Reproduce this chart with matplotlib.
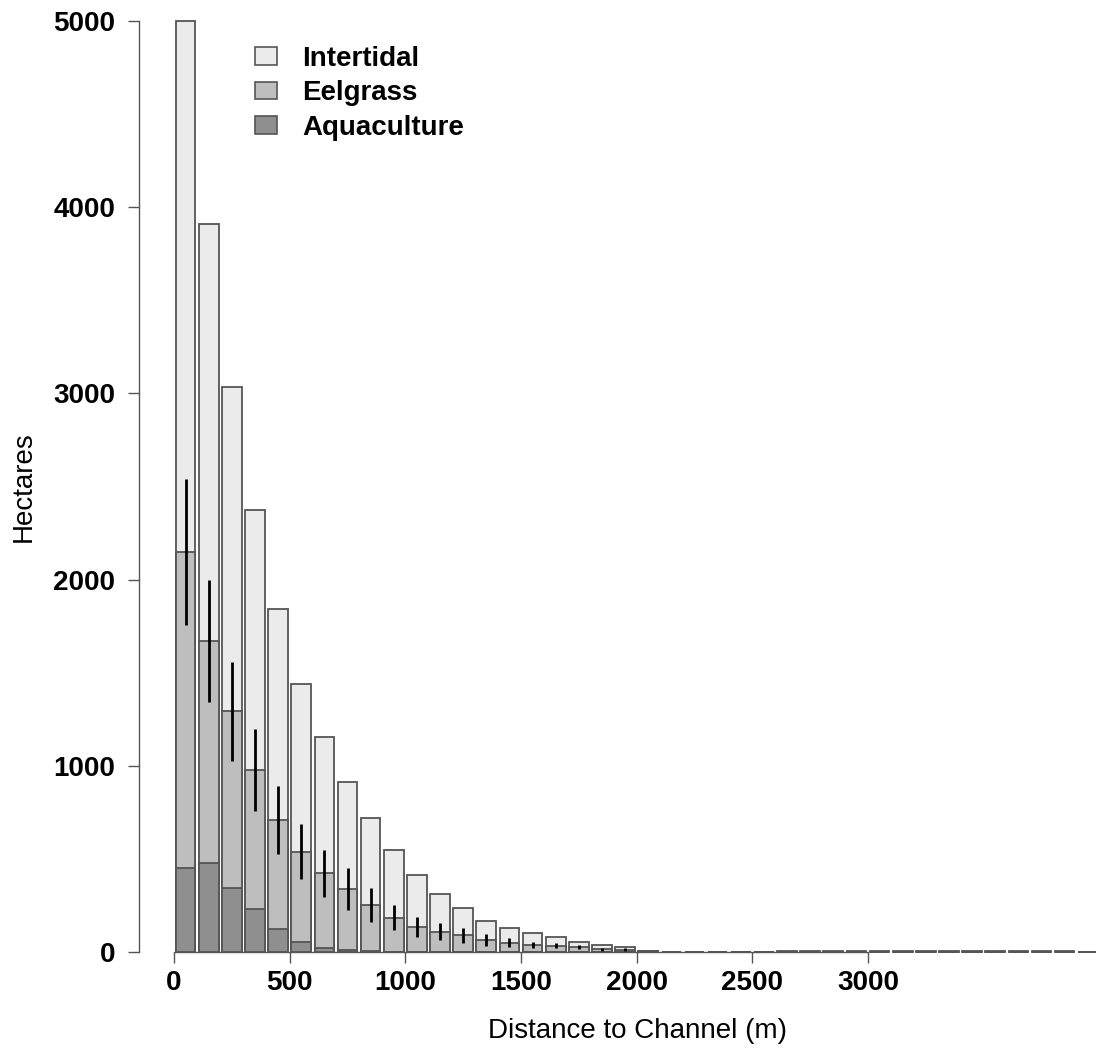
import matplotlib
matplotlib.use("Agg")
import matplotlib.pyplot as plt
from matplotlib.patches import Patch
import numpy as np

plt.rcParams['font.family'] = ['Liberation Sans', 'DejaVu Sans']

# ---- data (hectares per 100 m distance bin) ----
bin_centers = [50 + 100 * i for i in range(40)]
intertidal = [5000, 3910, 3034, 2374, 1842, 1441, 1153, 915, 722, 548,
              413, 311, 235, 166, 127, 102, 80, 54, 39, 27,
              8, 1, 1, 1, 1, 1, 3, 4, 5, 5,
              5, 5, 5, 5, 5, 5, 4, 4, 4, 2]
eelgrass = [2147, 1672, 1293, 976, 709, 539, 423, 337, 254, 184,
            134, 109, 89, 66, 50, 38, 34, 25, 14, 12,
            3, 0, 0, 0, 0, 0, 0, 0, 0, 0,
            0, 0, 0, 0, 0, 0, 0, 0, 0, 0]
eelgrass_err = [393, 328, 265, 219, 180, 148, 127, 113, 92, 67,
                56, 47, 41, 32, 23, 17, 12, 10, 8, 7,
                0, 0, 0, 0, 0, 0, 0, 0, 0, 0,
                0, 0, 0, 0, 0, 0, 0, 0, 0, 0]
aquaculture = [449, 476, 345, 231, 124, 55, 23, 11, 4, 2,
               0, 0, 0, 0, 0, 0, 0, 0, 0, 0,
               0, 0, 0, 0, 0, 0, 0, 0, 0, 0,
               0, 0, 0, 0, 0, 0, 0, 0, 0, 0]
series_names = ["Intertidal", "Eelgrass", "Aquaculture"]
x_ticks = [0, 500, 1000, 1500, 2000, 2500, 3000]
y_ticks = [0, 1000, 2000, 3000, 4000, 5000]

colors = ["#ebebeb", "#bebebe", "#8f8f8f"]
edge = "#555555"

W, H = 1096, 1050
fig = plt.figure(figsize=(W / 100, H / 100), dpi=100)
ax = fig.add_axes([139 / W, 1 - 952 / H, (W - 139) / W, (952 - 21) / H])

bw = 85
for vals, c in zip([intertidal, eelgrass, aquaculture], colors):
    ax.bar(bin_centers, vals, width=bw, color=c, edgecolor=edge,
           linewidth=1.3, clip_on=False, zorder=2)

xc = np.array(bin_centers, dtype=float)
ev = np.array(eelgrass, dtype=float)
ee = np.array(eelgrass_err, dtype=float)
m = ee > 0
ax.vlines(xc[m], ev[m] - ee[m], ev[m] + ee[m], colors="black",
          linewidth=2.0, zorder=3)

px_per_m = (868 - 174) / 3000.0
ax.set_xlim((139 - 174) / px_per_m, (W - 174) / px_per_m)
ax.set_ylim(0, 5000)

for s in ["top", "right"]:
    ax.spines[s].set_visible(False)
ax.spines["left"].set_bounds(0, 5000)
ax.spines["bottom"].set_bounds(0, 3000)
for s in ["left", "bottom"]:
    ax.spines[s].set_color(edge)
    ax.spines[s].set_linewidth(1.0)
    ax.spines[s].set_zorder(4)

ax.set_xticks(x_ticks)
ax.set_xticklabels([str(t) for t in x_ticks], fontsize=20, fontweight="bold")
ax.set_yticks(y_ticks)
ax.set_yticklabels([str(t) for t in y_ticks], fontsize=20, fontweight="bold")
ax.tick_params(axis="x", length=8, width=1.0, color=edge, pad=5)
ax.tick_params(axis="y", length=8, width=1.0, color=edge, pad=9)

ax.set_xlabel("Distance to Channel (m)", fontsize=20, va="center")
ax.set_ylabel("Hectares", fontsize=20, ha="center", va="center")
ax.xaxis.set_label_coords((637 - 139) / (W - 139), -(1031 - 952) / (952 - 21))
ax.yaxis.set_label_coords(-(139 - 24) / (W - 139), (952 - 487) / (952 - 21))

handles = [Patch(facecolor=c, edgecolor=edge, linewidth=1.2) for c in colors]
fig.legend(handles, series_names, loc="upper left",
           bbox_to_anchor=(255 / W, 1 - 46 / H), frameon=False,
           prop={"size": 20, "weight": "bold"}, borderpad=0,
           borderaxespad=0, handlelength=0.8, handleheight=0.6,
           handletextpad=0.9, labelspacing=0.3)

fig.savefig("out.png", dpi=100)
